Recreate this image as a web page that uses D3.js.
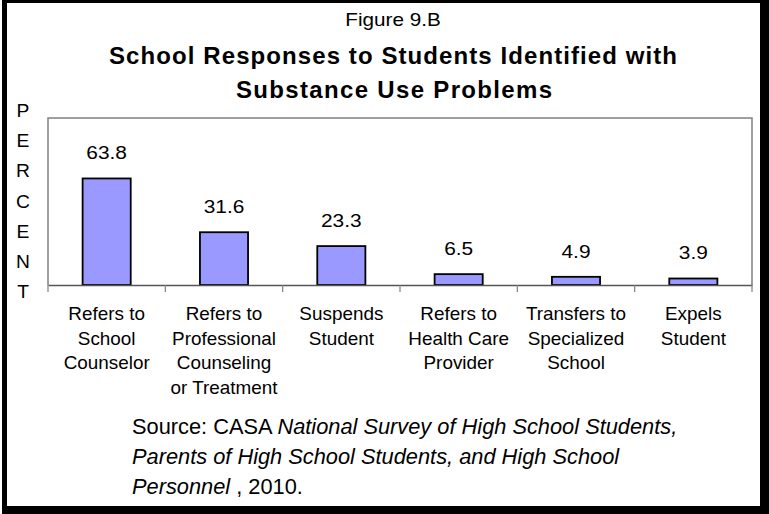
<!DOCTYPE html>
<html>
<head>
<meta charset="utf-8">
<script src="https://cdn.jsdelivr.net/npm/d3@7"></script>
<style>
  html, body { margin: 0; padding: 0; background: #fff; }
  svg { display: block; }
  text { font-family: "Liberation Sans", Arial, sans-serif; fill: #000; }
</style>
</head>
<body>
<svg id="chart" width="769" height="514"></svg>
<script>
// ---- data ----
const categories = [
  "Refers to School Counselor",
  "Refers to Professional Counseling or Treatment",
  "Suspends Student",
  "Refers to Health Care Provider",
  "Transfers to Specialized School",
  "Expels Student"
];
const categoryLines = [
  ["Refers to", "School", "Counselor"],
  ["Refers to", "Professional", "Counseling", "or Treatment"],
  ["Suspends", "Student"],
  ["Refers to", "Health Care", "Provider"],
  ["Transfers to", "Specialized", "School"],
  ["Expels", "Student"]
];
const values = [63.8, 31.6, 23.3, 6.5, 4.9, 3.9];
const valueLabels = ["63.8", "31.6", "23.3", "6.5", "4.9", "3.9"];
const figureLabel = "Figure 9.B";
const titleLines = ["School Responses to Students Identified with", "Substance Use Problems"];
const yAxisLetters = ["P", "E", "R", "C", "E", "N", "T"];
const yDomain = [0, 100];

const svg = d3.select("#chart");

// ---- frame ----
svg.append("rect").attr("x", 2).attr("y", 0).attr("width", 767).attr("height", 514).attr("fill", "#000");
svg.append("rect").attr("x", 7).attr("y", 3).attr("width", 753).attr("height", 503).attr("fill", "#fff");

// helper: horizontally scaled text
function stext(g, str, x, y, size, opts = {}) {
  const sx = opts.sx || 1;
  const t = g.append("text")
    .attr("transform", `translate(${x},${y}) scale(${sx},1)`)
    .attr("text-anchor", opts.anchor || "middle")
    .style("font-size", size + "px")
    .style("font-weight", opts.bold ? "bold" : "normal")
    .text(str);
  if (opts.length) t.attr("textLength", opts.length / sx).attr("lengthAdjust", "spacing");
  return t;
}

// ---- titles ----
stext(svg, figureLabel, 393, 26, 18, { sx: 1.15 });
stext(svg, titleLines[0], 393, 64, 24, { bold: true, length: 568 });
stext(svg, titleLines[1], 394, 98, 24, { bold: true, length: 316 });

// ---- scales ----
const plot = { left: 48, right: 752, top: 118, bottom: 285 };
const x = d3.scaleBand().domain(categories).range([plot.left, plot.right])
  .paddingInner(0.59).paddingOuter(0.295);
const xb = d3.scaleBand().domain(categories).range([plot.left, plot.right]).padding(0);
const y = d3.scaleLinear().domain(yDomain).range([plot.bottom, plot.top]);

// ---- plot frame ----
svg.append("path")
  .attr("d", `M${plot.left},${plot.bottom}V${plot.top}H${plot.right}V${plot.bottom}`)
  .attr("fill", "none").attr("stroke", "#808080").attr("stroke-width", 1.5);

// ---- bars ----
svg.append("g").selectAll("rect").data(values).join("rect")
  .attr("x", (d, i) => x(categories[i]))
  .attr("y", d => y(d))
  .attr("width", x.bandwidth())
  .attr("height", d => y(0) - y(d))
  .attr("fill", "#9999ff")
  .attr("stroke", "#000")
  .attr("stroke-width", 1.8);

// ---- x axis (baseline + boundary ticks) ----
const xAxis = d3.axisBottom(xb).tickSize(0).tickFormat("");
const gx = svg.append("g").attr("transform", `translate(0,${plot.bottom})`).call(xAxis);
gx.select(".domain").attr("stroke", "#555").attr("stroke-width", 1.5);
const boundaries = categories.map(c => xb(c)).concat([plot.right]);
gx.selectAll(".bnd").data(boundaries).join("line").attr("class", "bnd")
  .attr("x1", d => d).attr("x2", d => d).attr("y1", 0).attr("y2", 7)
  .attr("stroke", "#808080").attr("stroke-width", 1.2);

// ---- value labels ----
const gv = svg.append("g");
values.forEach((v, i) => {
  stext(gv, valueLabels[i], x(categories[i]) + x.bandwidth() / 2, y(v) - 19, 19, { sx: 1.1 });
});

// ---- category labels ----
const gl = svg.append("g");
categoryLines.forEach((lines, i) => {
  const cx = xb(categories[i]) + xb.bandwidth() / 2;
  lines.forEach((ln, j) => {
    stext(gl, ln, cx, 320 + j * 24.5, 18, { sx: 1.05 });
  });
});

// ---- vertical axis title ----
const gy = svg.append("g");
yAxisLetters.forEach((ch, i) => {
  stext(gy, ch, 23, 117 + i * 30.2, 17.5, { sx: 1.1 });
});

// ---- source note ----
const src = svg.append("g").style("font-size", "21.8px");
const l1 = src.append("text").attr("x", 132).attr("y", 434);
l1.append("tspan").text("Source: CASA ");
l1.append("tspan").style("font-style", "italic").text("National Survey of High School Students,");
src.append("text").attr("x", 132).attr("y", 464).style("font-style", "italic")
  .text("Parents of High School Students, and High School");
const l3 = src.append("text").attr("x", 132).attr("y", 494);
l3.append("tspan").style("font-style", "italic").text("Personnel");
l3.append("tspan").text(" , 2010.");
</script>
</body>
</html>
